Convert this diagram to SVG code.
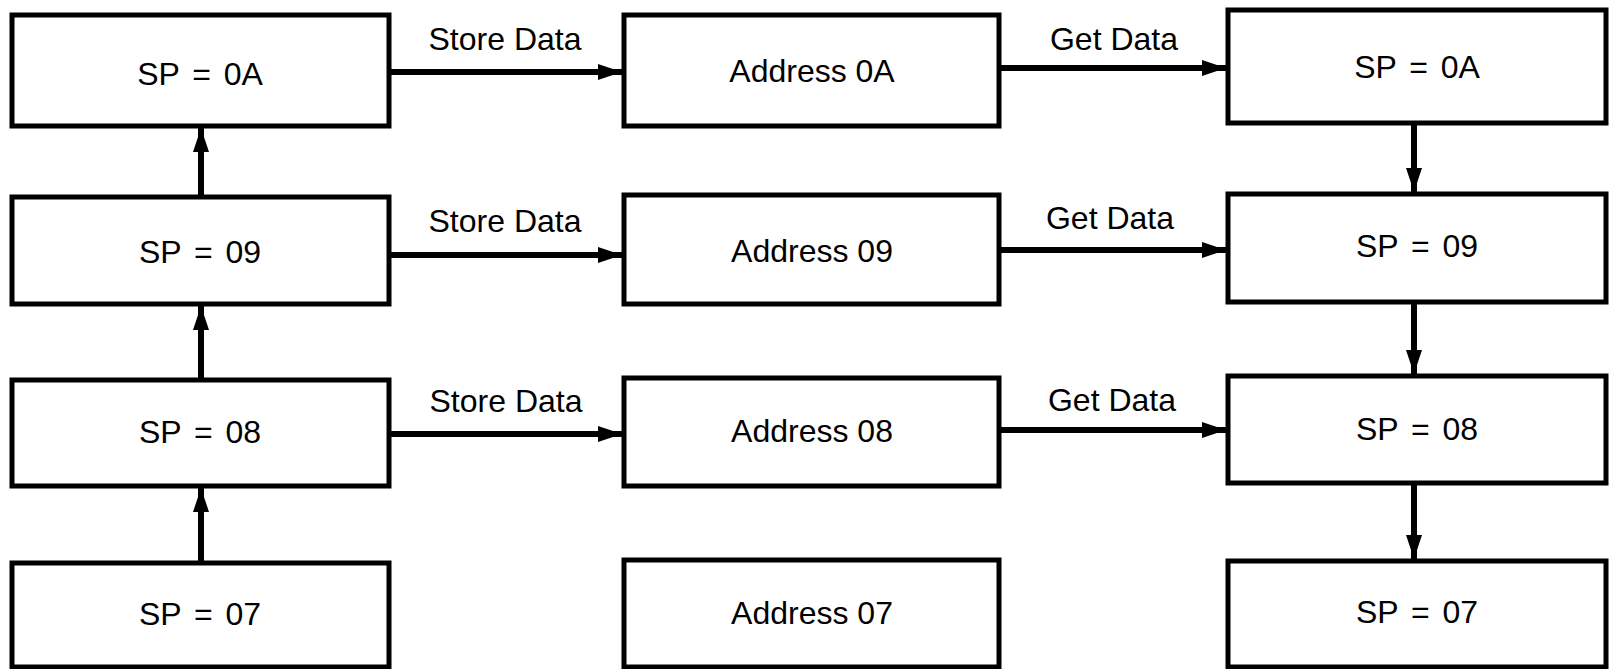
<svg xmlns="http://www.w3.org/2000/svg" width="1619" height="669" viewBox="0 0 1619 669">
<style>
.box{fill:#fff;stroke:#000;stroke-width:5}
.t{font-family:"Liberation Sans",Arial,sans-serif;font-size:32px;fill:#000;text-anchor:middle}
.sp{word-spacing:4px}
.c{stroke:#000;stroke-width:6;fill:none}
</style>
<defs>
<marker id="ah" markerUnits="userSpaceOnUse" markerWidth="26" markerHeight="20" refX="24" refY="10" orient="auto">
<path d="M0,2 L24,10 L0,18 z" fill="#000"/>
</marker>
</defs>
<rect width="1619" height="669" fill="#fff"/>
<g id="connectors">
<line class="c" x1="389" y1="72" x2="622" y2="72" marker-end="url(#ah)"/>
<line class="c" x1="389" y1="255" x2="622" y2="255" marker-end="url(#ah)"/>
<line class="c" x1="389" y1="434" x2="622" y2="434" marker-end="url(#ah)"/>
<line class="c" x1="999" y1="68" x2="1226" y2="68" marker-end="url(#ah)"/>
<line class="c" x1="999" y1="250" x2="1226" y2="250" marker-end="url(#ah)"/>
<line class="c" x1="999" y1="430" x2="1226" y2="430" marker-end="url(#ah)"/>
<line class="c" x1="201" y1="197" x2="201" y2="128" marker-end="url(#ah)"/>
<line class="c" x1="201" y1="380" x2="201" y2="306" marker-end="url(#ah)"/>
<line class="c" x1="201" y1="563" x2="201" y2="488" marker-end="url(#ah)"/>
<line class="c" x1="1414" y1="123" x2="1414" y2="192" marker-end="url(#ah)"/>
<line class="c" x1="1414" y1="302" x2="1414" y2="374" marker-end="url(#ah)"/>
<line class="c" x1="1414" y1="483" x2="1414" y2="559" marker-end="url(#ah)"/>
<text class="t" x="505" y="50">Store Data</text>
<text class="t" x="505" y="232">Store Data</text>
<text class="t" x="506" y="412">Store Data</text>
<text class="t" x="1114" y="50">Get Data</text>
<text class="t" x="1110" y="229">Get Data</text>
<text class="t" x="1112" y="411">Get Data</text>
</g>
<g id="sp0A_left"><rect class="box" x="12" y="15" width="377" height="111"/><text class="t sp" x="200" y="85">SP = 0A</text></g>
<g id="sp09_left"><rect class="box" x="12" y="197" width="377" height="107"/><text class="t sp" x="200" y="263">SP = 09</text></g>
<g id="sp08_left"><rect class="box" x="12" y="380" width="377" height="106"/><text class="t sp" x="200" y="443">SP = 08</text></g>
<g id="sp07_left"><rect class="box" x="12" y="563" width="377" height="104"/><text class="t sp" x="200" y="625">SP = 07</text></g>
<g id="addr0A"><rect class="box" x="624" y="15" width="375" height="111"/><text class="t" x="812" y="82">Address 0A</text></g>
<g id="addr09"><rect class="box" x="624" y="195" width="375" height="109"/><text class="t" x="812" y="262">Address 09</text></g>
<g id="addr08"><rect class="box" x="624" y="378" width="375" height="108"/><text class="t" x="812" y="442">Address 08</text></g>
<g id="addr07"><rect class="box" x="624" y="560" width="375" height="107"/><text class="t" x="812" y="624">Address 07</text></g>
<g id="sp0A_right"><rect class="box" x="1228" y="10" width="378" height="113"/><text class="t sp" x="1417" y="78">SP = 0A</text></g>
<g id="sp09_right"><rect class="box" x="1228" y="194" width="378" height="108"/><text class="t sp" x="1417" y="257">SP = 09</text></g>
<g id="sp08_right"><rect class="box" x="1228" y="376" width="378" height="107"/><text class="t sp" x="1417" y="440">SP = 08</text></g>
<g id="sp07_right"><rect class="box" x="1228" y="561" width="378" height="106"/><text class="t sp" x="1417" y="623">SP = 07</text></g>
</svg>
